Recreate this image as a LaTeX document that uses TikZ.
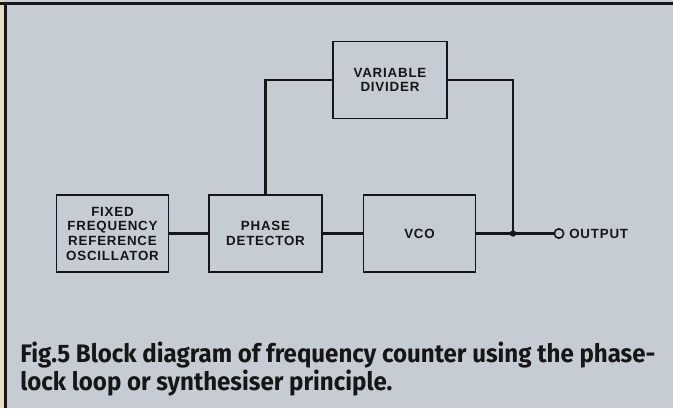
\documentclass[tikz,border=0pt]{standalone}
\usepackage{fontspec}
\usepackage{tikz}
\usetikzlibrary{positioning, calc}
\newfontfamily\boxfont[LetterSpace=6]{Liberation Sans}
\newfontfamily\capfont[FakeStretch=0.95]{Fira Sans}
\definecolor{paper}{HTML}{C5CCD3}
\definecolor{ink}{HTML}{161616}
\definecolor{edge}{HTML}{E6DCC4}

\begin{document}
\begin{tikzpicture}[
  x=0.75pt, y=-0.75pt,
  block/.style={rectangle, draw=ink, line width=1.2pt, fill=paper, minimum width=84pt, minimum height=58pt, align=center, inner sep=0pt, font=\boxfont\bfseries\fontsize{10}{11}\selectfont, text=ink},
  line/.style={draw=ink, line width=1.6pt, -}
]

% Page
\fill[paper] (0,0) rectangle (673,408);
\useasboundingbox (0,0) rectangle (673,408);
\fill[edge] (0,0) rectangle (4,408);
\fill[ink] (0,2) rectangle (673,4.5);
\fill[ink] (4,2) rectangle (7,408);

% Blocks
\node[block] (fixed) at (112.5, 233.5) {FIXED\\FREQUENCY\\REFERENCE\\OSCILLATOR};
\node[block, minimum width=85pt] (phase) at (265.5, 233.5) {PHASE\\DETECTOR};
\node[block] (vco) at (419.5, 233.5) {VCO};
\node[block, minimum width=85.5pt] (divider) at (390, 80) {VARIABLE\\DIVIDER};

% Output terminal
\coordinate (junc) at (513, 233.5);
\node[circle, draw=ink, line width=1.2pt, fill=paper, inner sep=0pt, minimum size=7pt] (out) at (559, 233.5) {};
\node[anchor=west, inner sep=0pt, font=\boxfont\bfseries\fontsize{10}{11}\selectfont, text=ink] (outlabel) at (569, 233.5) {OUTPUT};

% Connections
\draw[line] (fixed.east) -- (phase.west);
\draw[line] (phase.east) -- (vco.west);
\draw[line] (vco.east) -- (junc) -- (out.west);
\draw[line] (phase.north) |- (divider.west);
\draw[line] (divider.east) -| (junc);
\fill[ink] (junc) circle (2.4pt);

% Caption
\node[anchor=north west, align=left, inner sep=0pt, text=ink, font=\capfont\bfseries\fontsize{19}{15}\selectfont] (caption) at (20, 342)
  {Fig.5 Block diagram of frequency counter using the phase-\\lock loop or synthesiser principle.};

\end{tikzpicture}
\end{document}
